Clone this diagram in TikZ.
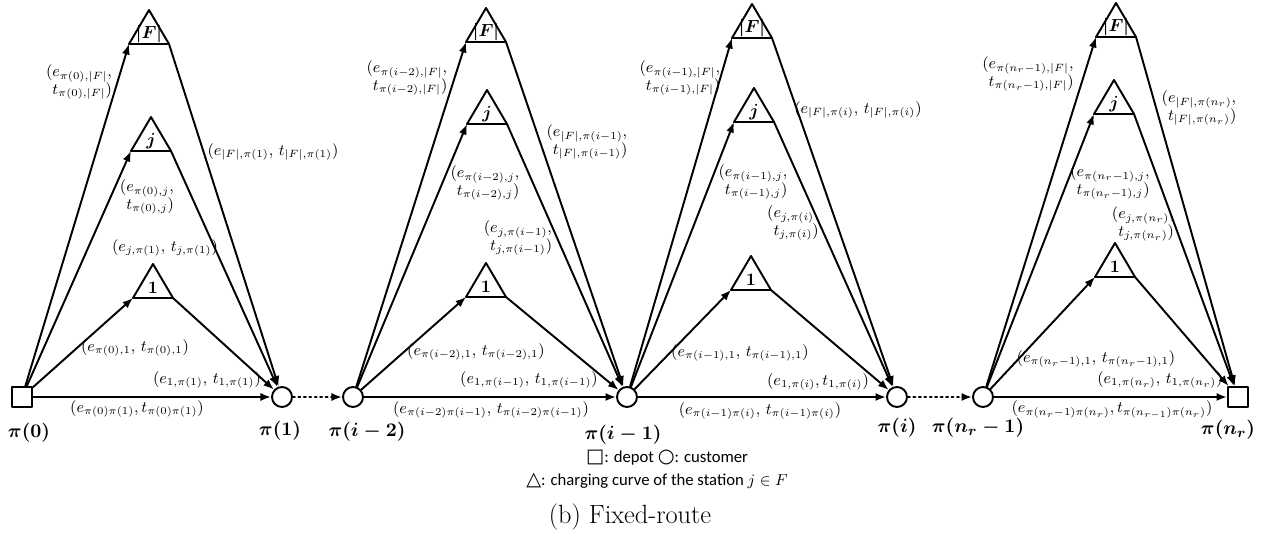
\documentclass[tikz,border=0pt]{standalone}
\usepackage{fontspec}
\newfontfamily\legendfont{Carlito}
\newfontfamily\glyphfam{DejaVu Sans}
\usetikzlibrary{arrows.meta}

\begin{document}
\begin{tikzpicture}[x=0.02cm, y=-0.02cm, line cap=round, line join=round,
  cust/.style={circle, draw, line width=1.1pt, minimum size=0.4cm, inner sep=0pt},
  depot/.style={rectangle, draw, line width=1.1pt, minimum size=0.4cm, inner sep=0pt},
  arr/.style={line width=1.1pt, -{Latex[length=6pt,width=4.6pt]}},
  dotarr/.style={arr, dotted},
  lab/.style={font=\fontsize{9}{10}\selectfont, inner sep=0pt, align=left},
  vlab/.style={font=\fontsize{11}{13}\selectfont\boldmath, inner sep=0pt}]

\useasboundingbox (0,0) rectangle (1268,537);

% route nodes
\node[depot] (n0) at (22,397) {};
\node[cust]  (n1) at (282,397) {};
\node[cust]  (n2) at (353,397) {};
\node[cust]  (n3) at (627,397) {};
\node[cust]  (n4) at (897,397) {};
\node[cust]  (n5) at (983,397) {};
\node[depot] (n6) at (1238,397) {};

\node[vlab] (v0) at (29,433)   {$\pi(0)$};
\node[vlab] (v1) at (280,431)  {$\pi(1)$};
\node[vlab] (v2) at (367,432)  {$\pi(i-2)$};
\node[vlab] (v3) at (623,435)  {$\pi(i-1)$};
\node[vlab] (v4) at (897,428)  {$\pi(i)$};
\node[vlab] (v5) at (978,428)  {$\pi(n_r-1)$};
\node[vlab] (v6) at (1228,430) {$\pi(n_r)$};

% charging stations
\foreach \t/\x/\y/\s in {aF/149/44/|F|, aj/151/151/j, a1/153/298/1,
                         bF/486/42/|F|, bj/487/124/j, b1/486/297/1,
                         cF/752/38/|F|, cj/754/122/j, c1/751/290/1,
                         dF/1116/37/|F|, dj/1114/114/j, d1/1115/277/1} {
  \coordinate (\t-l) at (\x-20,\y);
  \coordinate (\t-r) at (\x+20,\y);
  \draw[line width=1.1pt] (\t-l) -- (\x,\y-34) -- (\t-r) -- cycle;
  \node[font=\fontsize{10}{12}\selectfont\boldmath, inner sep=0pt] (\t-s) at (\x,\y-10) {$\s$};
}

% arcs
\foreach \p/\s/\e in {a/n0/n1, b/n2/n3, c/n3/n4, d/n5/n6} {
  \foreach \k in {F,j,1} {
    \draw[arr] (\s) -- (\p\k-l);
    \draw[arr] (\p\k-r) -- (\e);
  }
  \draw[arr] (\s) -- (\e);
}
\draw[dotarr] (n1) -- (n2);
\draw[dotarr] (n4) -- (n5);

% arc labels
\node[lab] (aFi) at (79,82)   {$(e_{\pi(0),|F|},$\\$\phantom{(}t_{\pi(0),|F|})$};
\node[lab] (aFo) at (273,152) {$(e_{|F|,\pi(1)},\, t_{|F|,\pi(1)})$};
\node[lab] (aji) at (147,197) {$(e_{\pi(0),j},$\\$\phantom{(}t_{\pi(0),j})$};
\node[lab] (ajo) at (165,248) {$(e_{j,\pi(1)},\, t_{j,\pi(1)})$};
\node[lab] (a1i) at (135,348) {$(e_{\pi(0),1},\, t_{\pi(0),1})$};
\node[lab] (a1o) at (207,380) {$(e_{1,\pi(1)},\, t_{1,\pi(1)})$};
\node[lab] (ad)  at (137,409) {$(e_{\pi(0)\pi(1)}, t_{\pi(0)\pi(1)})$};

\node[lab] (bFi) at (407,78)  {$(e_{\pi(i-2),|F|},$\\$\phantom{(}t_{\pi(i-2),|F|})$};
\node[lab] (bFo) at (587,142) {$(e_{|F|,\pi(i-1)},$\\$\phantom{(}t_{|F|,\pi(i-1)})$};
\node[lab] (bji) at (485,183) {$(e_{\pi(i-2),j},$\\$\phantom{(}t_{\pi(i-2),j})$};
\node[lab] (bjo) at (518,238) {$(e_{j,\pi(i-1)},$\\$\phantom{(}t_{j,\pi(i-1)})$};
\node[lab] (b1i) at (476,352) {$(e_{\pi(i-2),1},\, t_{\pi(i-2),1})$};
\node[lab] (b1o) at (529,380) {$(e_{1,\pi(i-1)},\, t_{1,\pi(i-1)})$};
\node[lab] (bd)  at (491,410) {$(e_{\pi(i-2)\pi(i-1)},\, t_{\pi(i-2)\pi(i-1)})$};

\node[lab] (cFi) at (680,78)  {$(e_{\pi(i-1),|F|},$\\$\phantom{(}t_{\pi(i-1),|F|})$};
\node[lab] (cFo) at (858,110) {$(e_{|F|,\pi(i)},\, t_{|F|,\pi(i)})$};
\node[lab] (cji) at (753,182) {$(e_{\pi(i-1),j},$\\$\phantom{(}t_{\pi(i-1),j})$};
\node[lab] (cjo) at (793,223) {$(e_{j,\pi(i)},$\\$\phantom{(}t_{j,\pi(i)})$};
\node[lab] (c1i) at (740,353) {$(e_{\pi(i-1),1},\, t_{\pi(i-1),1})$};
\node[lab] (c1o) at (818,382) {$(e_{1,\pi(i)},t_{1,\pi(i)})$};
\node[lab] (cd)  at (760,411) {$(e_{\pi(i-1)\pi(i)},\, t_{\pi(i-1)\pi(i)})$};

\node[lab] (dFi) at (1028,74)  {$(e_{\pi(n_r-1),|F|},$\\$\phantom{(}t_{\pi(n_r-1),|F|})$};
\node[lab] (dFo) at (1199,108) {$(e_{|F|,\pi(n_r)},$\\$\phantom{(}t_{|F|,\pi(n_r)})$};
\node[lab] (dji) at (1110,182) {$(e_{\pi(n_r-1),j},$\\$\phantom{(}t_{\pi(n_r-1),j})$};
\node[lab] (djo) at (1143,224) {$(e_{j,\pi(n_r)},$\\$\phantom{(}t_{j,\pi(n_r)})$};
\node[lab] (d1i) at (1096,359) {$(e_{\pi(n_r-1),1},\, t_{\pi(n_r-1),1})$};
\node[lab] (d1o) at (1160,380) {$(e_{1,\pi(n_r)},\, t_{1,\pi(n_r)})$};
\node[lab] (dd)  at (1112,410) {$(e_{\pi(n_r-1)\pi(n_r)}, t_{\pi(n_{r-1})\pi(n_r)})$};

% legend and caption
\node[font=\legendfont\fontsize{9.5}{11}\selectfont, inner sep=0pt] (leg1) at (667,458)
  {{\glyphfam\fontsize{11}{11}\selectfont □}: depot {\glyphfam\fontsize{11}{11}\selectfont ○}: customer};
\node[font=\legendfont\fontsize{9.5}{11}\selectfont, inner sep=0pt] (leg2) at (657,481)
  {{\glyphfam\fontsize{11}{11}\selectfont △}: charging curve of the station $j \in F$};
\node[font=\fontsize{15}{18}\selectfont, inner sep=0pt] (cap) at (630,517) {(b) Fixed-route};

\end{tikzpicture}
\end{document}
